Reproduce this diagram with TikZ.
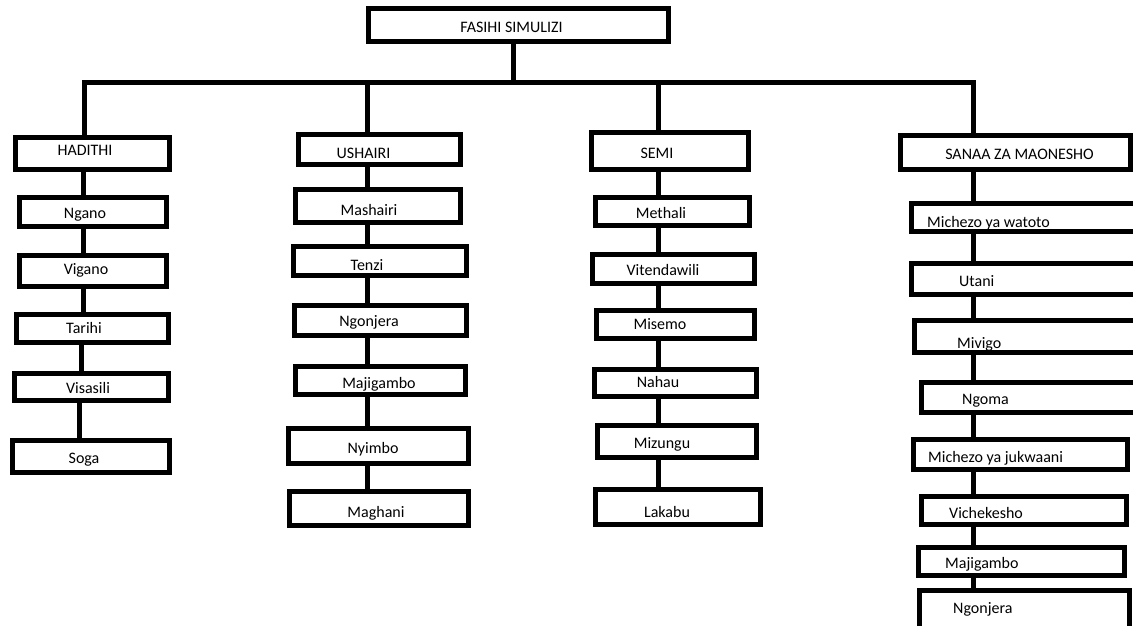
\documentclass[tikz,border=0pt]{standalone}
\usepackage{fontspec}
\setmainfont{Carlito}
\newcommand\drawbox[5]{\node[box,minimum width={(#3-#2-5)*1pt},minimum height={(#5-#4-5)*1pt}] (#1) at ({(#2+#3)/2},{(#4+#5)/2}) {};}
\newcommand\boxtext[4]{\node[lab,anchor=base] (#1) at (#2,{#3+5.5}) {#4};}
\newcommand\boxtextL[4]{\node[lab,anchor=base west] (#1) at (#2,{#3+5.5}) {#4};}
\begin{document}
\begin{tikzpicture}[x=1pt,y=-1pt,
  box/.style={draw=black,line width=5pt,fill=white,inner sep=0pt},
  lab/.style={inner sep=0pt,font=\fontsize{16}{18}\selectfont,text=black},
  conn/.style={draw=black,line width=5pt}]
\useasboundingbox (0,0) rectangle (1133,626);
\clip (0,0) rectangle (1133,626);
\fill[white] (0,0) rectangle (1133,626);
% top
\drawbox{top}{366}{671}{6}{44}
\boxtext{ttop}{511.5}{27}{FASIHI SIMULIZI}
% column A
\drawbox{hadithi}{13}{171.5}{135}{172}
\drawbox{ngano}{17}{169}{195}{229}
\drawbox{vigano}{17}{169}{253}{289}
\drawbox{tarihi}{14}{171}{312}{345}
\drawbox{visasili}{12}{171}{371}{403}
\drawbox{soga}{10}{172}{438}{475}
% column B
\drawbox{ushairi}{296}{463}{132}{167}
\drawbox{mashairi}{293}{463}{187}{225}
\drawbox{tenzi}{291}{469}{244}{278}
\drawbox{ngonjeraB}{292}{469}{303}{338}
\drawbox{majigamboB}{293}{468}{364}{397}
\drawbox{nyimbo}{286}{471}{426}{466}
\drawbox{maghani}{287}{471}{489}{528}
% column C
\drawbox{semi}{589}{751}{130}{172}
\drawbox{methali}{593}{752}{195}{228}
\drawbox{vitendawili}{590}{757}{252}{286}
\drawbox{misemo}{594}{757}{308}{341}
\drawbox{nahau}{592}{759}{367}{399}
\drawbox{mizungu}{595}{759}{423}{460}
\drawbox{lakabu}{593}{763}{487}{527}
% column D
\drawbox{sanaa}{898}{1133}{133}{172}
\drawbox{watoto}{909}{1145}{201}{234}
\drawbox{utani}{909}{1145}{261}{297}
\drawbox{mivigo}{912}{1145}{318}{355}
\drawbox{ngoma}{919}{1145}{380}{415}
\drawbox{jukwaani}{911}{1130}{437}{472}
\drawbox{vichekesho}{919}{1129}{494}{527}
\drawbox{majigamboD}{916}{1127}{545}{578}
\drawbox{ngonjeraD}{917}{1132}{588}{635}
% connector coordinates
\coordinate (xt) at (513,0);
\coordinate (busL) at (84,82.5);
\coordinate (busR) at (973,82.5);
\coordinate (xb) at (367.5,0);
\coordinate (xc) at (658,0);
\coordinate (xa) at (83.5,0);
\coordinate (xa2) at (81,0);
\coordinate (xa3) at (79,0);
\coordinate (xd) at (973,0);
% bus
\draw[conn] (top.south -| xt) -- (xt |- busL);
\draw[conn] (hadithi.north -| busL) -- (busL) -- (busR) -- (busR |- sanaa.north);
\draw[conn] (ushairi.north -| xb) -- (xb |- busL);
\draw[conn] (semi.north -| xc) -- (xc |- busL);
% column A
\draw[conn] (hadithi.south -| xa) -- (ngano.north -| xa);
\draw[conn] (ngano.south -| xa) -- (vigano.north -| xa);
\draw[conn] (vigano.south -| xa) -- (tarihi.north -| xa);
\draw[conn] (tarihi.south -| xa2) -- (visasili.north -| xa2);
\draw[conn] (visasili.south -| xa3) -- (soga.north -| xa3);
% column B
\draw[conn] (ushairi.south -| xb) -- (mashairi.north -| xb);
\draw[conn] (mashairi.south -| xb) -- (tenzi.north -| xb);
\draw[conn] (tenzi.south -| xb) -- (ngonjeraB.north -| xb);
\draw[conn] (ngonjeraB.south -| xb) -- (majigamboB.north -| xb);
\draw[conn] (majigamboB.south -| xb) -- (nyimbo.north -| xb);
\draw[conn] (nyimbo.south -| xb) -- (maghani.north -| xb);
% column C
\draw[conn] (semi.south -| xc) -- (methali.north -| xc);
\draw[conn] (methali.south -| xc) -- (vitendawili.north -| xc);
\draw[conn] (vitendawili.south -| xc) -- (misemo.north -| xc);
\draw[conn] (misemo.south -| xc) -- (nahau.north -| xc);
\draw[conn] (nahau.south -| xc) -- (mizungu.north -| xc);
\draw[conn] (mizungu.south -| xc) -- (lakabu.north -| xc);
% column D
\draw[conn] (sanaa.south -| xd) -- (watoto.north -| xd);
\draw[conn] (watoto.south -| xd) -- (utani.north -| xd);
\draw[conn] (utani.south -| xd) -- (mivigo.north -| xd);
\draw[conn] (mivigo.south -| xd) -- (ngoma.north -| xd);
\draw[conn] (ngoma.south -| xd) -- (jukwaani.north -| xd);
\draw[conn] (jukwaani.south -| xd) -- (vichekesho.north -| xd);
\draw[conn] (vichekesho.south -| xd) -- (majigamboD.north -| xd);
\draw[conn] (majigamboD.south -| xd) -- (ngonjeraD.north -| xd);
% texts A
\boxtext{thadithi}{85}{150}{HADITHI}
\boxtext{tngano}{85}{213}{Ngano}
\boxtext{tvigano}{86}{269}{Vigano}
\boxtext{ttarihi}{84}{328}{Tarihi}
\boxtext{tvisasili}{88}{388}{Visasili}
\boxtext{tsoga}{84}{458}{Soga}
% texts B
\boxtext{tushairi}{363.5}{153}{USHAIRI}
\boxtext{tmashairi}{369}{210}{Mashairi}
\boxtext{ttenzi}{367}{265}{Tenzi}
\boxtext{tngonjeraB}{369}{321}{Ngonjera}
\boxtext{tmajigamboB}{379}{383}{Majigambo}
\boxtext{tnyimbo}{373}{448}{Nyimbo}
\boxtext{tmaghani}{376}{512}{Maghani}
% texts C
\boxtext{tsemi}{657}{153}{SEMI}
\boxtext{tmethali}{661}{213}{Methali}
\boxtext{tvitendawili}{663}{270}{Vitendawili}
\boxtext{tmisemo}{660}{324}{Misemo}
\boxtext{tnahau}{658}{382}{Nahau}
\boxtext{tmizungu}{662}{443}{Mizungu}
\boxtext{tlakabu}{667}{512}{Lakabu}
% texts D
\boxtext{tsanaa}{1019.5}{154}{SANAA ZA MAONESHO}
\boxtextL{twatoto}{927}{222}{Michezo ya watoto}
\boxtextL{tutani}{959}{281}{Utani}
\boxtextL{tmivigo}{957}{343}{Mivigo}
\boxtextL{tngoma}{962}{399}{Ngoma}
\boxtextL{tjukwaani}{928}{457}{Michezo ya jukwaani}
\boxtextL{tvichekesho}{949}{513}{Vichekesho}
\boxtextL{tmajigamboD}{945}{563}{Majigambo}
\boxtextL{tngonjeraD}{953}{608}{Ngonjera}
\end{tikzpicture}
\end{document}
